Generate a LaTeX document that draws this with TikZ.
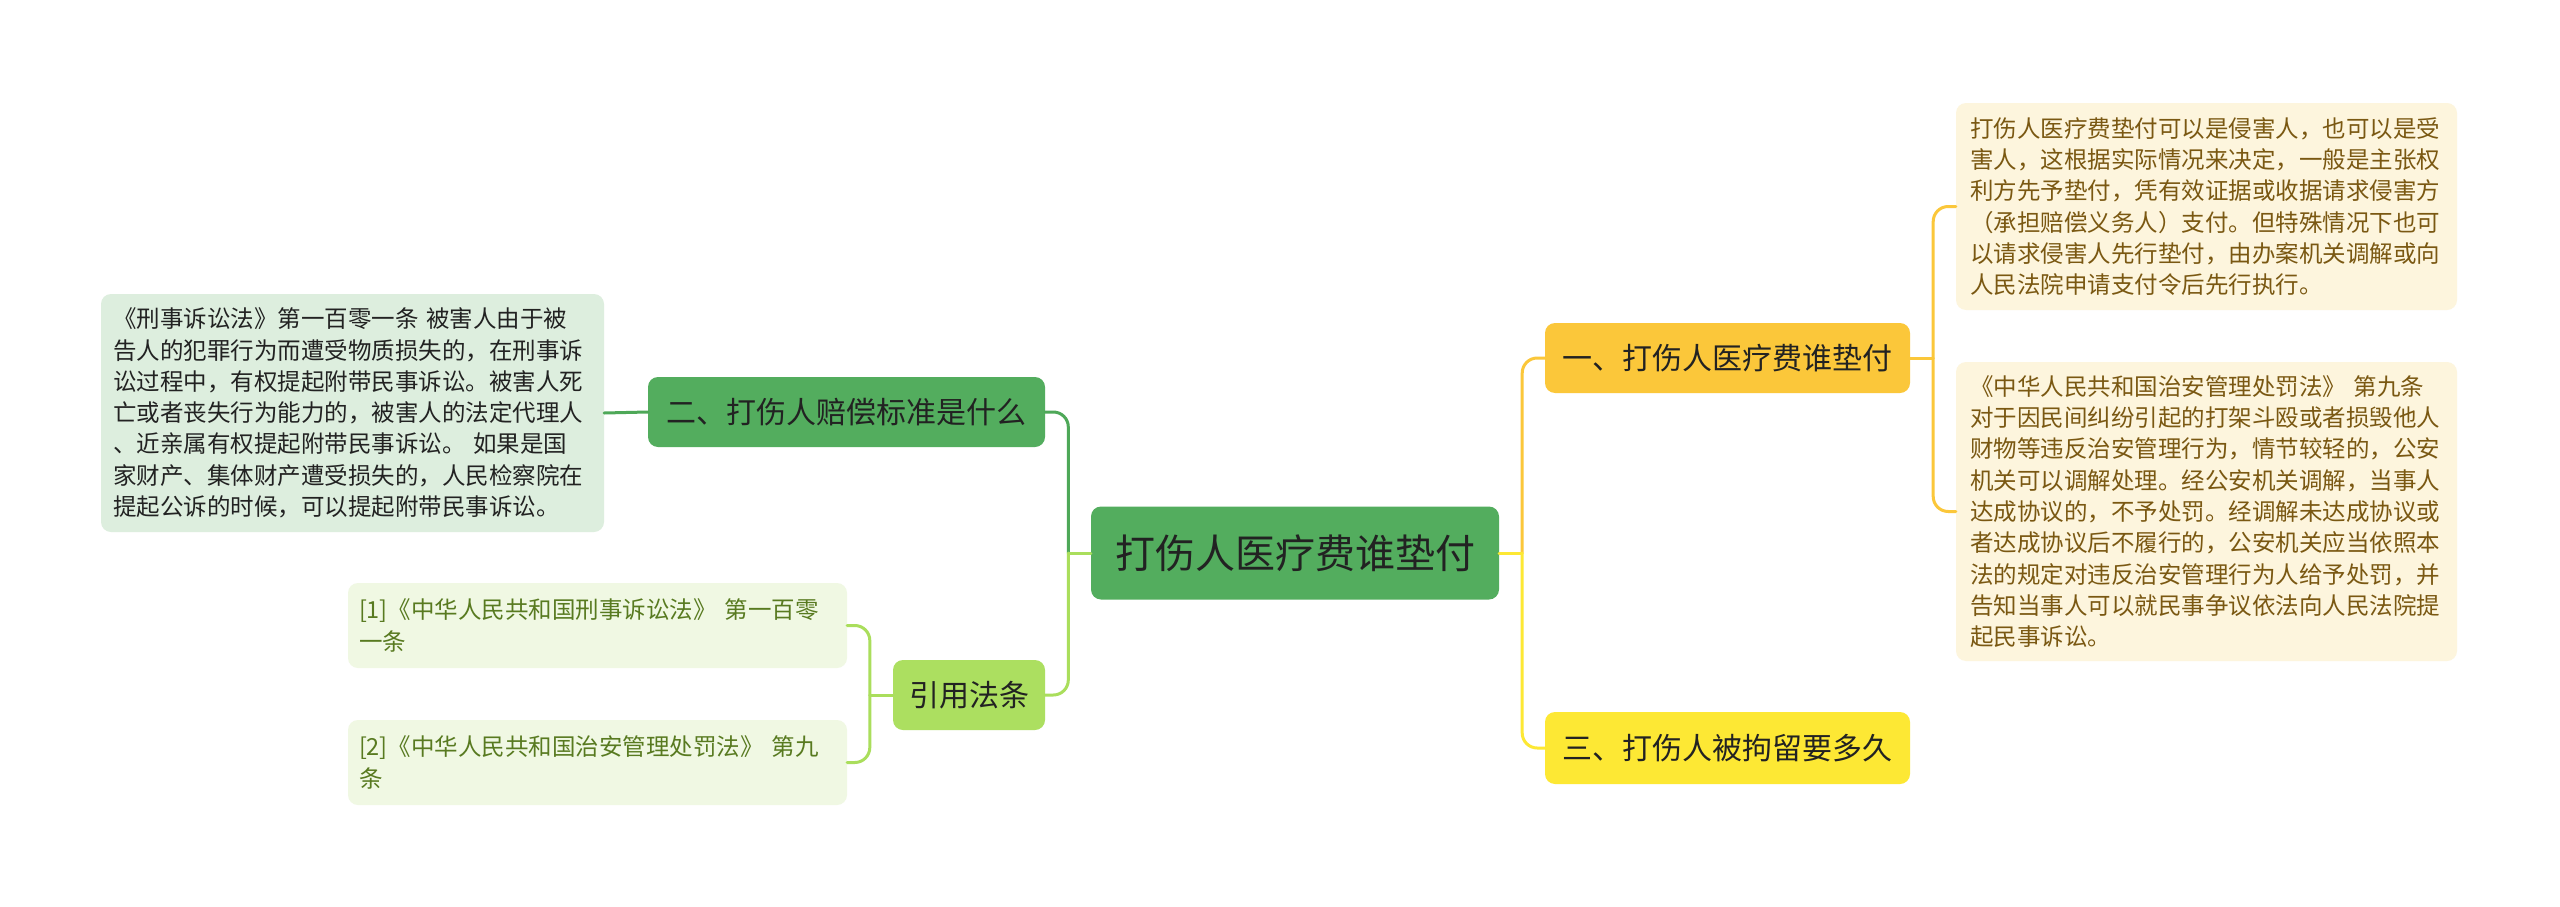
\documentclass[tikz,border=0pt]{standalone}
\usepackage{fontspec}
\setmainfont{Noto Sans CJK SC}
\definecolor{rootg}{RGB}{83,173,94}
\definecolor{dgline}{RGB}{78,168,88}
\definecolor{lgfill}{RGB}{172,223,96}
\definecolor{lgline}{RGB}{170,222,92}
\definecolor{leaffill}{RGB}{240,248,227}
\definecolor{leaftext}{RGB}{88,122,32}
\definecolor{lboxfill}{RGB}{221,238,222}
\definecolor{amber}{RGB}{251,199,58}
\definecolor{yel}{RGB}{253,232,52}
\definecolor{cream}{RGB}{253,245,221}
\definecolor{brown}{RGB}{122,88,18}
\definecolor{txt}{RGB}{34,34,34}
\begin{document}
\begin{tikzpicture}[x=1pt,y=-1pt,
  box/.style={rounded corners=10pt, inner sep=0pt, align=center, text=txt},
  big/.style={box, font=\fontsize{40}{48}\selectfont},
  mid/.style={box, font=\fontsize{30}{36}\selectfont},
  para/.style={rounded corners=10pt, inner xsep=12pt, inner ysep=0pt, align=left,
    font=\fontsize{23.5}{31.3}\selectfont},
  conn/.style={line width=3pt, line cap=round},
  rc/.style={rounded corners=15pt}]
\fill[white] (0,0) rectangle (2560,907);
\useasboundingbox (0,0) rectangle (2560,907);

% nodes
\node[big, fill=rootg, minimum width=408pt, minimum height=93pt] (root) at (1295,553) {打伤人医疗费谁垫付};
\node[mid, fill=amber, minimum width=365pt, minimum height=70pt] (n1) at (1727.5,358) {一、打伤人医疗费谁垫付};
\node[mid, fill=yel, minimum width=365pt, minimum height=72pt] (n3) at (1727.5,748) {三、打伤人被拘留要多久};
\node[mid, fill=rootg, minimum width=397pt, minimum height=70pt] (n2) at (846.5,412) {二、打伤人赔偿标准是什么};
\node[mid, fill=lgfill, minimum width=152pt, minimum height=70pt] (cite) at (969,695) {引用法条};

\node[para, fill=lboxfill, text=txt, text width=479pt, minimum height=238pt] (lbox) at (352.5,413) {%
《刑事诉讼法》第一百零一条 被害人由于被\\
告人的犯罪行为而遭受物质损失的，在刑事诉\\
讼过程中，有权提起附带民事诉讼。被害人死\\
亡或者丧失行为能力的，被害人的法定代理人\\
、近亲属有权提起附带民事诉讼。 如果是国\\
家财产、集体财产遭受损失的，人民检察院在\\
提起公诉的时候，可以提起附带民事诉讼。};

\node[para, fill=leaffill, text=leaftext, inner xsep=11pt, text width=477pt, minimum height=85pt] (leaf1) at (597.5,625.5) {%
[1]《中华人民共和国刑事诉讼法》 第一百零\\
一条};
\node[para, fill=leaffill, text=leaftext, inner xsep=11pt, text width=477pt, minimum height=85pt] (leaf2) at (597.5,762.5) {%
[2]《中华人民共和国治安管理处罚法》 第九\\
条};

\node[para, fill=cream, text=brown, inner xsep=14pt, text width=473pt, minimum height=207pt] (r1) at (2206.5,206.5) {%
打伤人医疗费垫付可以是侵害人，也可以是受\\
害人，这根据实际情况来决定，一般是主张权\\
利方先予垫付，凭有效证据或收据请求侵害方\\
（承担赔偿义务人）支付。但特殊情况下也可\\
以请求侵害人先行垫付，由办案机关调解或向\\
人民法院申请支付令后先行执行。};

\node[para, fill=cream, text=brown, inner xsep=14pt, text width=473pt, minimum height=299pt] (r2) at (2206.5,511.5) {%
《中华人民共和国治安管理处罚法》 第九条\\
对于因民间纠纷引起的打架斗殴或者损毁他人\\
财物等违反治安管理行为，情节较轻的，公安\\
机关可以调解处理。经公安机关调解，当事人\\
达成协议的，不予处罚。经调解未达成协议或\\
者达成协议后不履行的，公安机关应当依照本\\
法的规定对违反治安管理行为人给予处罚，并\\
告知当事人可以就民事争议依法向人民法院提\\
起民事诉讼。};

% junctions
\path (root.west) ++(-22.5,0) coordinate (jl);
\path (root.east) ++(23,0) coordinate (jr);
\path (n1.east) ++(23,0) coordinate (j1);
\path (cite.west) ++(-23,0) coordinate (jc);

% left connectors
\draw[conn, dgline, rc] (jl) |- (n2.east);
\draw[conn, lgline] (root.west) -- (jl);
\draw[conn, lgline, rc] (jl) |- (cite.east);
\draw[conn, dgline] (n2.west) -- (lbox.east);
\draw[conn, lgline] (cite.west) -- (jc);
\draw[conn, lgline, rc] (jc) |- (leaf1.east);
\draw[conn, lgline, rc] (jc) |- (leaf2.east);

% right connectors
\draw[conn, amber, rc] (jr) |- (n1.west);
\draw[conn, yel] (root.east) -- (jr);
\draw[conn, yel, rc] (jr) |- (n3.west);
\draw[conn, amber] (n1.east) -- (j1);
\draw[conn, amber, rc] (j1) |- (r1.west);
\draw[conn, amber, rc] (j1) |- (r2.west);
\end{tikzpicture}
\end{document}
